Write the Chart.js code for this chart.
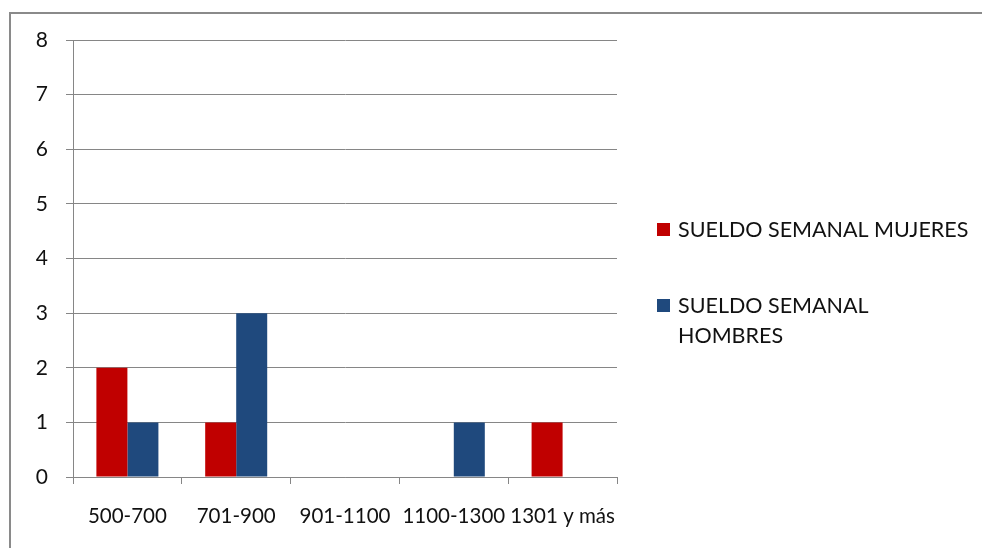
<!DOCTYPE html>
<html>
<head>
<meta charset="utf-8">
<script src="https://cdn.jsdelivr.net/npm/chart.js@4/dist/chart.umd.min.js"></script>
<style>
  html, body { margin: 0; padding: 0; background: #fff; }
  #wrap { width: 982px; height: 548px; position: relative; }
</style>
</head>
<body>
<div id="wrap"><canvas id="c" width="982" height="548"></canvas></div>
<script>
const categories = ['500-700', '701-900', '901-1100', '1100-1300', '1301 y más'];
const mujeres = [2, 1, 0, 0, 1];
const hombres = [1, 3, 0, 1, 0];
const yTicks = [0, 1, 2, 3, 4, 5, 6, 7, 8];
const seriesNames = [['SUELDO SEMANAL MUJERES'], ['SUELDO SEMANAL', 'HOMBRES']];

const FONT = 'Lato, "Open Sans", sans-serif';
const AXIS = '#868686';

// outer frame around the whole chart
const framePlugin = {
  id: 'frame',
  beforeDraw(chart) {
    const ctx = chart.ctx;
    ctx.save();
    ctx.fillStyle = '#fff';
    ctx.fillRect(0, 0, chart.width, chart.height);
    ctx.strokeStyle = '#8a8a8a';
    ctx.lineWidth = 2;
    ctx.strokeRect(10, 13, 1100, 700);
    ctx.restore();
  }
};

// legend on the right, with wrapped series names
const sideLegend = {
  id: 'sideLegend',
  afterDraw(chart) {
    const ctx = chart.ctx;
    ctx.save();
    ctx.font = '21.5px ' + FONT;
    ctx.textBaseline = 'middle';
    const rows = [230, 306];
    chart.data.datasets.forEach((ds, i) => {
      const y = rows[i];
      ctx.fillStyle = ds.backgroundColor;
      ctx.fillRect(657, y - 7, 13, 13);
      ctx.fillStyle = '#111';
      seriesNames[i].forEach((line, j) => {
        ctx.fillText(line, 678, y + j * 30);
      });
    });
    ctx.restore();
  }
};

new Chart(document.getElementById('c'), {
  type: 'bar',
  data: {
    labels: categories,
    datasets: [
      { label: seriesNames[0].join(' '), data: mujeres, backgroundColor: '#C00000', borderWidth: 0 },
      { label: seriesNames[1].join(' '), data: hombres, backgroundColor: '#1F497D', borderWidth: 0 }
    ]
  },
  options: {
    responsive: false,
    animation: false,
    layout: { padding: { top: 40, right: 365, bottom: 0, left: 0 } },
    plugins: { legend: { display: false }, tooltip: { enabled: false } },
    datasets: { bar: { categoryPercentage: 0.57, barPercentage: 1 } },
    scales: {
      x: {
        grid: { drawOnChartArea: false, drawTicks: true, tickLength: 7, color: AXIS, offset: true },
        border: { color: AXIS, width: 1 },
        ticks: { color: '#111', font: { family: FONT, size: 20.5 }, padding: 20, maxRotation: 0, autoSkip: false },
        afterFit(s) { s.height = 71; }
      },
      y: {
        min: 0, max: 8,
        afterBuildTicks(s) { s.ticks = yTicks.map(v => ({ value: v })); },
        grid: { color: AXIS, tickLength: 7, drawTicks: true },
        border: { color: AXIS, width: 1 },
        ticks: { color: '#111', font: { family: FONT, size: 21 }, padding: 18 },
        afterFit(s) { s.width = 73; }
      }
    }
  },
  plugins: [framePlugin, sideLegend]
});
</script>
</body>
</html>
